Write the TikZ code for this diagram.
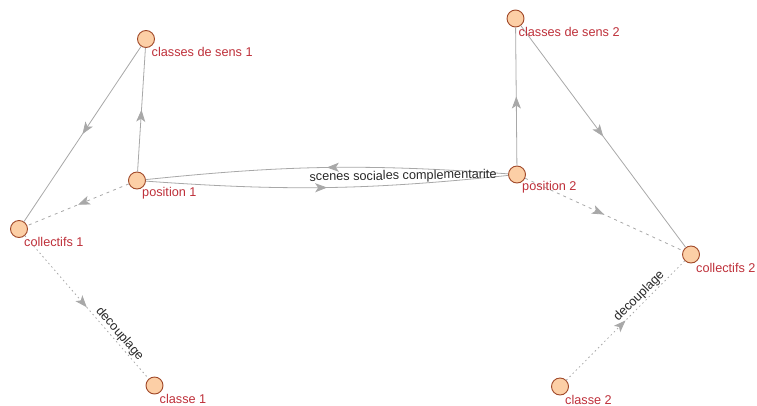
\documentclass[tikz,border=0pt]{standalone}
\usepackage{fontspec}
\setmainfont{Liberation Sans}
\usetikzlibrary{arrows.meta,decorations.markings,calc}
\definecolor{nodefill}{RGB}{252,207,166}
\definecolor{nodedraw}{RGB}{160,72,40}
\definecolor{labred}{RGB}{190,48,58}
\definecolor{edgegray}{RGB}{168,168,168}
\definecolor{textgray}{RGB}{40,40,40}
\tikzset{
  x=1pt, y=1pt,
  vtx/.style={circle, draw=nodedraw, fill=nodefill, line width=0.9pt, minimum size=17pt, inner sep=0pt},
  vlab/.style={anchor=west, inner sep=0pt, text=labred, font=\fontsize{12.7}{15}\selectfont},
  elab/.style={inner sep=1pt, text=textgray, font=\fontsize{12.7}{15}\selectfont, sloped},
  conn/.style={draw=edgegray, line width=0.8pt,
    postaction={decorate},
    decoration={markings, mark=at position 0.5 with {\arrow[edgegray]{Stealth[length=12pt,width=9pt,inset=3pt]}}}},
  dashconn/.style={conn, dash pattern=on 3pt off 4pt},
  dotconn/.style={conn, dash pattern=on 1.5pt off 3pt}
}
\begin{document}
\begin{tikzpicture}
\useasboundingbox (0,0) rectangle (757,-405);
% nodes
\node[vtx] (cs1) at (146,-39) {};
\node[vtx] (p1) at (137,-180.5) {};
\node[vtx] (c1) at (19,-229) {};
\node[vtx] (k1) at (154.5,-385.5) {};
\node[vtx] (cs2) at (515.5,-18.5) {};
\node[vtx] (p2) at (517,-174.5) {};
\node[vtx] (c2) at (691,-254.5) {};
\node[vtx] (k2) at (560,-386.5) {};
% edges
\draw[conn] (cs1) -- (c1);
\draw[conn] (p1) -- (cs1);
\draw[dashconn] (p1) -- (c1);
\draw[dotconn] (c1) -- (k1) node[elab, above, pos=0.72] {decouplage};
\draw[conn] (p2) to[bend right=5] (p1);
\draw[conn] (p1) to[bend right=5] (p2);
\path (p1) -- (p2) node[elab, pos=0.71] {scenes sociales complementarite};
\draw[conn] (p2) -- (cs2);
\draw[conn] (cs2) -- (c2);
\draw[dashconn] (p2) -- (c2);
\draw[dotconn] (k2) -- (c2) node[elab, above, pos=0.66] {decouplage};
% node labels
\node[vlab] (lcs1) at ($(cs1)+(5.5,-13)$) {classes de sens 1};
\node[vlab] (lp1) at ($(p1)+(5,-13)$) {position 1};
\node[vlab] (lc1) at ($(c1)+(5,-13)$) {collectifs 1};
\node[vlab] (lk1) at ($(k1)+(5,-13)$) {classe 1};
\node[vlab] (lcs2) at ($(cs2)+(3,-13)$) {classes de sens 2};
\node[vlab] (lp2) at ($(p2)+(5,-13)$) {position 2};
\node[vlab] (lc2) at ($(c2)+(5,-13)$) {collectifs 2};
\node[vlab] (lk2) at ($(k2)+(5,-13)$) {classe 2};
\end{tikzpicture}
\end{document}
